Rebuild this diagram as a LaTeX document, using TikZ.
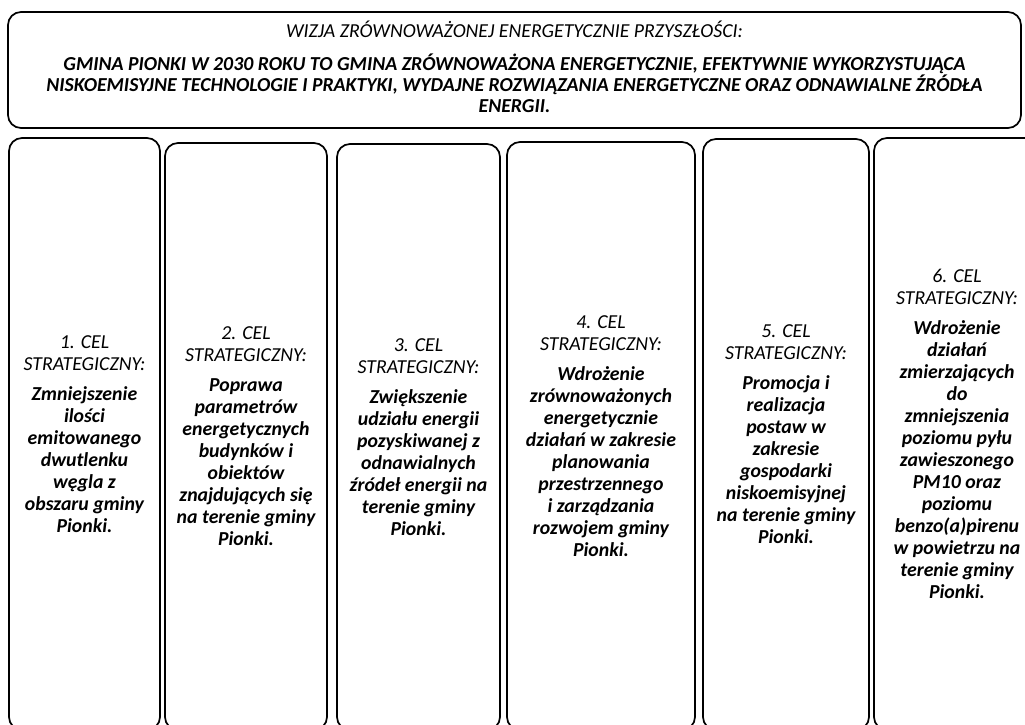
\documentclass[tikz,border=0pt]{standalone}
\usepackage{fontspec}
\setmainfont{Carlito}
\begin{document}
\begin{tikzpicture}[x=1pt,y=-1pt,
  frame/.style={draw=black, line width=1.7pt, rounded corners=13pt, fill=white, inner sep=0pt},
  goal/.style={frame, align=center, font=\fontsize{19.8}{22}\selectfont\itshape},
  visiontext/.style={align=center, inner sep=0pt, font=\fontsize{19.8}{21}\selectfont\itshape}]
\useasboundingbox (0,0) rectangle (1025,725);
\clip (0,0) rectangle (1025,725);
\fill[white] (0,0) rectangle (1025,725);
\node[frame, minimum width=1013pt, minimum height=116pt] (vis) at (514.5,70) {};
\node[visiontext] (vistext) at (514.5,66.5)
  {WIZJA ZRÓWNOWAŻONEJ ENERGETYCZNIE PRZYSZŁOŚCI:\\[12pt]
   \bfseries GMINA PIONKI W 2030 ROKU TO GMINA ZRÓWNOWAŻONA ENERGETYCZNIE, EFEKTYWNIE WYKORZYSTUJĄCA\\
   \bfseries NISKOEMISYJNE TECHNOLOGIE I PRAKTYKI, WYDAJNE ROZWIĄZANIA ENERGETYCZNE ORAZ ODNAWIALNE ŹRÓDŁA\\
   \bfseries ENERGII.};
\node[goal, minimum width=151pt, minimum height=592pt] (c1) at (84.5,434)
  {1. CEL\\STRATEGICZNY:\\[8pt]\bfseries Zmniejszenie\\\bfseries ilości\\\bfseries emitowanego\\\bfseries dwutlenku\\\bfseries węgla z\\\bfseries obszaru gminy\\\bfseries Pionki.};
\node[goal, minimum width=162pt, minimum height=587pt] (c2) at (246,436.5)
  {2. CEL\\STRATEGICZNY:\\[8pt]\bfseries Poprawa\\\bfseries parametrów\\\bfseries energetycznych\\\bfseries budynków i\\\bfseries obiektów\\\bfseries znajdujących się\\\bfseries na terenie gminy\\\bfseries Pionki.};
\node[goal, minimum width=163pt, minimum height=586pt] (c3) at (418.5,437)
  {3. CEL\\STRATEGICZNY:\\[8pt]\bfseries Zwiększenie\\\bfseries udziału energii\\\bfseries pozyskiwanej z\\\bfseries odnawialnych\\\bfseries źródeł energii na\\\bfseries terenie gminy\\\bfseries Pionki.};
\node[goal, minimum width=188pt, minimum height=588pt] (c4) at (601,436)
  {4. CEL\\STRATEGICZNY:\\[8pt]\bfseries Wdrożenie\\\bfseries zrównoważonych\\\bfseries energetycznie\\\bfseries działań w zakresie\\\bfseries planowania\\\bfseries przestrzennego\\\bfseries i zarządzania\\\bfseries rozwojem gminy\\\bfseries Pionki.};
\node[goal, minimum width=166pt, minimum height=591pt] (c5) at (786,434.5)
  {5. CEL\\STRATEGICZNY:\\[8pt]\bfseries Promocja i\\\bfseries realizacja\\\bfseries postaw w\\\bfseries zakresie\\\bfseries gospodarki\\\bfseries niskoemisyjnej\\\bfseries na terenie gminy\\\bfseries Pionki.};
\node[goal, minimum width=166pt, minimum height=592pt] (c6) at (957,434)
  {6. CEL\\STRATEGICZNY:\\[8pt]\bfseries Wdrożenie\\\bfseries działań\\\bfseries zmierzających\\\bfseries do\\\bfseries zmniejszenia\\\bfseries poziomu pyłu\\\bfseries zawieszonego\\\bfseries PM10 oraz\\\bfseries poziomu\\\bfseries benzo(a)pirenu\\\bfseries w powietrzu na\\\bfseries terenie gminy\\\bfseries Pionki.};
\end{tikzpicture}
\end{document}
